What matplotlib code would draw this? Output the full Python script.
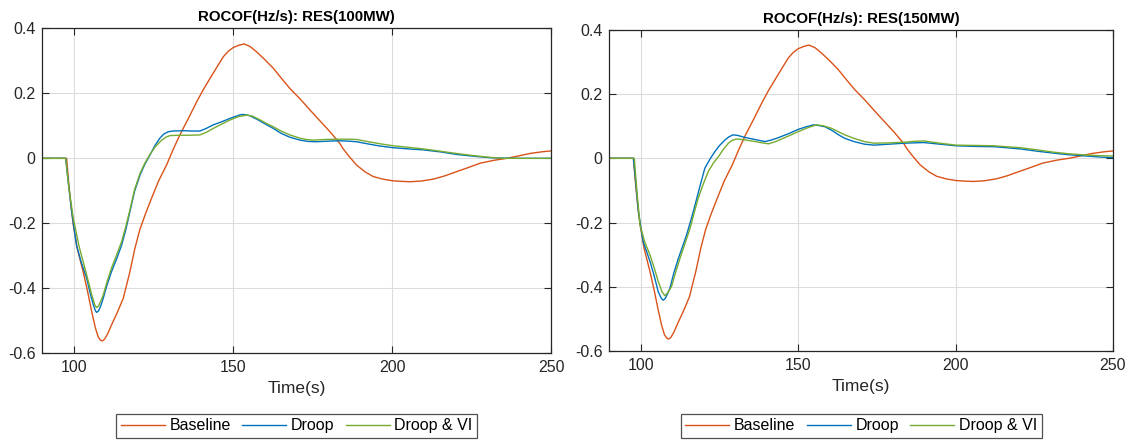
import matplotlib
matplotlib.use("Agg")
import matplotlib.pyplot as plt

plt.rcParams['font.family'] = ['Liberation Sans', 'DejaVu Sans']
plt.rcParams['axes.unicode_minus'] = False

# ---------------- data ----------------
titles = ["ROCOF(Hz/s): RES(100MW)", "ROCOF(Hz/s): RES(150MW)"]
series_names = ["Baseline", "Droop", "Droop & VI"]
xticks = [100, 150, 200, 250]
yticks = [-0.6, -0.4, -0.2, 0, 0.2, 0.4]
ytick_labels = ["-0.6", "-0.4", "-0.2", "0", "0.2", "0.4"]

base_t = [90, 97.6, 98.3, 99.0, 99.7, 101, 102.8, 104.2, 105.5, 106.6, 107.5, 108.2, 108.8,
          109.5, 110.5, 111.7, 113.5, 115.4, 117.5, 119, 120.6, 122.5, 124.3, 126.5, 129,
          131, 133.2, 136, 138.5, 140.5, 142.7, 145, 146.9, 148.5, 150, 151.8, 153.4, 155.3,
          157.3, 160, 162.6, 165, 167.8, 171, 174.1, 177, 180.4, 183.5, 184.5, 186.5, 188.8,
          191.5, 194, 197, 200, 203, 205.6, 209, 212.9, 216.5, 220.2, 224, 227.6, 232, 236,
          240, 243.3, 247, 250]
base_v = [0, 0, -0.08, -0.15, -0.205, -0.28, -0.349, -0.41, -0.472, -0.52, -0.549, -0.559, -0.562,
          -0.557, -0.54, -0.513, -0.475, -0.431, -0.349, -0.28, -0.22, -0.168, -0.123, -0.07, -0.021,
          0.025, 0.072, 0.125, 0.174, 0.21, 0.246, 0.283, 0.313, 0.33, 0.341, 0.348, 0.352, 0.344,
          0.328, 0.303, 0.277, 0.248, 0.215, 0.183, 0.149, 0.118, 0.082, 0.046, 0.03, 0.005, -0.021,
          -0.042, -0.056, -0.064, -0.069, -0.071, -0.072, -0.07, -0.064, -0.054, -0.041, -0.028, -0.015, -0.006, 0,
          0.008, 0.015, 0.02, 0.023]

droop100_t = [90, 97.3, 98.2, 99.2, 100.7, 102.2, 103.9, 105, 106, 106.6, 107, 107.6, 108.3,
              109.1, 110.3, 111.7, 113.3, 114.9, 116.2, 117.5, 119, 120.7, 122.2, 123.8, 125.3,
              126.9, 128.2, 129.6, 131, 134.3, 137, 139.5, 141.5, 143.7, 146.5, 149, 151, 152.6,
              154, 155.2, 157.5, 160, 162.6, 165, 167.8, 171, 173.5, 176.2, 180, 183.5, 186,
              188.8, 192, 196, 200, 205, 209.7, 215, 220.2, 225, 230.7, 235, 240, 250]
droop100_v = [0, 0, -0.08, -0.164, -0.267, -0.32, -0.369, -0.415, -0.451, -0.468, -0.474, -0.47, -0.455,
              -0.431, -0.39, -0.349, -0.31, -0.267, -0.22, -0.164, -0.1, -0.051, -0.018, 0.010, 0.038,
              0.062, 0.075, 0.082, 0.084, 0.085, 0.084, 0.084, 0.092, 0.103, 0.113, 0.123, 0.13, 0.135,
              0.134, 0.131, 0.12, 0.106, 0.092, 0.077, 0.065, 0.056, 0.052, 0.051, 0.053, 0.054, 0.053,
              0.051, 0.045, 0.038, 0.033, 0.029, 0.026, 0.02, 0.012, 0.007, 0.002, 0.0005, 0, 0]

vi100_t = [90, 97.3, 98.3, 99.7, 101.5, 103.9, 105.5, 106.5, 107, 107.6, 108.3, 109.1, 110.3,
           111.7, 113.3, 114.9, 116.2, 117.5, 119, 120.7, 122.2, 123.8, 125.5, 127.5, 128.8,
           130.1, 133, 136, 139.5, 141.5, 143.7, 146.5, 149, 151.5, 154.2, 156, 158.5, 160.5,
           162.6, 165, 167.8, 171, 173, 175.2, 179, 183.5, 186, 188.8, 192, 196, 200, 205,
           209.7, 215, 220.2, 225, 230.7, 234.9, 250]
vi100_v = [0, 0, -0.09, -0.185, -0.27, -0.359, -0.42, -0.452, -0.459, -0.455, -0.44, -0.421, -0.38,
           -0.338, -0.298, -0.256, -0.21, -0.159, -0.095, -0.046, -0.015, 0.012, 0.036, 0.056, 0.065,
           0.070, 0.071, 0.071, 0.072, 0.08, 0.092, 0.106, 0.118, 0.128, 0.133, 0.13, 0.118, 0.107,
           0.097, 0.084, 0.072, 0.062, 0.058, 0.056, 0.058, 0.059, 0.059, 0.058, 0.052, 0.045, 0.039, 0.034,
           0.029, 0.022, 0.015, 0.009, 0.003, 0, 0]

droop150_t = [90, 97.6, 98.4, 99.2, 100.7, 102.9, 104.2, 105.5, 106.5, 107.1, 107.7, 108.4,
              109.2, 110.5, 111.9, 113.2, 114.5, 115.8, 117.2, 118.8, 120.3, 121.9, 123.5, 125,
              126.7, 128, 129.3, 130.8, 133, 136, 139.4, 141.5, 143.6, 147, 150, 152.5, 154.8,
              156.5, 158.5, 161, 162.8, 164.8, 167.7, 171, 174, 179, 183.6, 189.9, 195, 200,
              206, 212.2, 216, 220.7, 226, 231.2, 236, 241.8, 246, 250]
droop150_v = [0, 0, -0.08, -0.166, -0.259, -0.321, -0.365, -0.415, -0.436, -0.441, -0.436, -0.422,
              -0.404, -0.355, -0.311, -0.275, -0.238, -0.195, -0.145, -0.085, -0.031, -0.003, 0.021, 0.04,
              0.057, 0.067, 0.073, 0.071, 0.065, 0.059, 0.052, 0.057, 0.064, 0.077, 0.09, 0.098, 0.104,
              0.102, 0.098, 0.085, 0.073, 0.062, 0.052, 0.044, 0.041, 0.044, 0.047, 0.049, 0.044, 0.039,
              0.037, 0.036, 0.033, 0.029, 0.022, 0.016, 0.011, 0.007, 0.004, 0.002]

vi150_t = [90, 97.9, 98.7, 99.7, 101.2, 102.9, 104.2, 105.5, 106.7, 107.6, 108.5, 109.7, 111,
           112.4, 114, 115.6, 116.9, 118.2, 119.8, 121.4, 123, 124.6, 126.2, 127.8, 129, 130.4,
           132.5, 135.2, 138, 140.5, 142.5, 144.7, 147.5, 150, 153, 155.8, 158, 160.6, 162.7,
           164.8, 167.7, 171, 174, 179, 183.6, 187, 189.9, 195, 200, 206, 212.2, 216, 220.7,
           226, 231.2, 236, 241.8, 246, 250]
vi150_v = [0, 0, -0.1, -0.207, -0.26, -0.301, -0.34, -0.383, -0.415, -0.427, -0.418, -0.399, -0.355,
           -0.311, -0.265, -0.218, -0.17, -0.124, -0.08, -0.041, -0.015, 0.005, 0.028, 0.047, 0.056, 0.060,
           0.058, 0.054, 0.049, 0.045, 0.051, 0.060, 0.072, 0.083, 0.095, 0.104, 0.101, 0.093, 0.083,
           0.073, 0.062, 0.052, 0.047, 0.048, 0.050, 0.053, 0.054, 0.047, 0.041, 0.04, 0.039, 0.036, 0.033,
           0.026, 0.019, 0.014, 0.010, 0.008, 0.007]

colors = ["#D95319", "#0072BD", "#77AC30"]

panels = [
    [(base_t, base_v), (droop100_t, droop100_v), (vi100_t, vi100_v)],
    [(base_t, base_v), (droop150_t, droop150_v), (vi150_t, vi150_v)],
]

# ---------------- figure ----------------
fig = plt.figure(figsize=(11.32, 4.40), dpi=100)
positions = [[0.0375, 0.197, 0.4495, 0.7386], [0.5384, 0.2016, 0.4448, 0.731]]

for i, (pos, data) in enumerate(zip(positions, panels)):
    ax = fig.add_axes(pos)
    lines = []
    for (t, v), c, name in zip(data, colors, series_names):
        ln, = ax.plot(t, v, color=c, lw=1.0, label=name)
        lines.append(ln)
    ax.set_xlim(90, 250)
    ax.set_ylim(-0.6, 0.4)
    ax.set_xticks(xticks)
    ax.set_xticklabels([str(x) for x in xticks])
    ax.set_yticks(yticks)
    ax.set_yticklabels(ytick_labels)
    ax.grid(True, color="#dcdcdc", lw=0.8)
    ax.set_axisbelow(True)
    ax.tick_params(direction="in", length=5, width=0.8, top=True, right=True,
                   labelsize=11.5, colors="#262626", pad=5)
    for s in ax.spines.values():
        s.set_color("#262626")
        s.set_linewidth(0.9)
    ax.set_title(titles[i], fontsize=10.8, fontweight="bold", pad=5)
    ax.set_xlabel("Time(s)", fontsize=12.5, color="#262626", labelpad=4)
    xc = pos[0] + pos[2] / 2
    leg = fig.legend(handles=lines, loc="center", bbox_to_anchor=(xc, 0.032),
                     bbox_transform=fig.transFigure,
                     ncol=3, fontsize=11.5, frameon=True, fancybox=False,
                     handlelength=2.75, handletextpad=0.3, columnspacing=0.7,
                     borderpad=0.3, borderaxespad=0.0, edgecolor="#262626")
    leg.get_frame().set_linewidth(0.9)

fig.savefig("out.png", dpi=100)
